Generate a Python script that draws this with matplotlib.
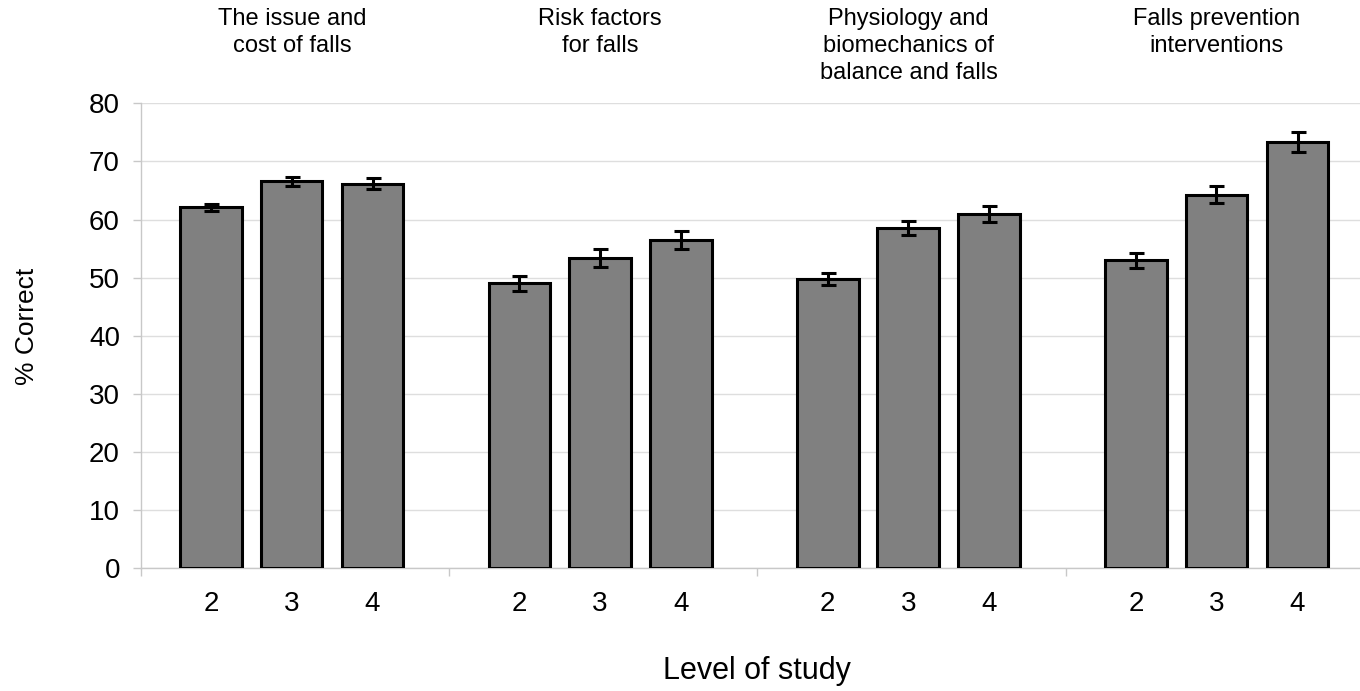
import numpy as np
import matplotlib.pyplot as plt
import matplotlib.transforms as mtransforms

plt.rcParams['font.family'] = ['Liberation Sans', 'DejaVu Sans']

topics = ["The issue and\ncost of falls", "Risk factors\nfor falls",
          "Physiology and\nbiomechanics of\nbalance and falls",
          "Falls prevention\ninterventions"]
levels = ["2", "3", "4"]
means = [[62.1, 66.6, 66.2],
         [49.0, 53.4, 56.5],
         [49.8, 58.6, 61.0],
         [53.0, 64.3, 73.4]]
errors = [[0.6, 0.8, 0.9],
          [1.3, 1.6, 1.5],
          [1.0, 1.2, 1.4],
          [1.3, 1.5, 1.7]]

offsets = np.array([0.228, 0.489, 0.752])
width = 0.2

fig = plt.figure(figsize=(13.6, 6.91), dpi=100)
ax = fig.add_axes([0.1035, 0.1776, 0.9068, 0.6729])

xs, ys, es, labs = [], [], [], []
for g in range(len(topics)):
    for k in range(len(levels)):
        xs.append(g + offsets[k])
        ys.append(means[g][k])
        es.append(errors[g][k])
        labs.append(levels[k])

ax.bar(xs, ys, width=width, color="#808080", edgecolor="black", linewidth=2.2, zorder=3)
ax.errorbar(xs, ys, yerr=es, fmt="none", ecolor="black", elinewidth=2.2,
            capsize=5.4, capthick=2.2, zorder=4)

ax.set_ylim(0, 80)
ax.set_xlim(0, 4)
ax.set_yticks(np.arange(0, 81, 10))
ax.yaxis.grid(True, color="#dedede", linewidth=1)
ax.set_axisbelow(True)

ax.set_xticks(range(5))
ax.set_xticklabels([])
ax.set_xticks(xs, minor=True)
ax.set_xticklabels(labs, minor=True, fontsize=20)
ax.tick_params(axis="x", which="minor", length=0, pad=16)
ax.tick_params(axis="x", which="major", length=6, color="#c8c8c8", width=1)
ax.tick_params(axis="y", length=6, color="#c8c8c8", width=1, labelsize=20, pad=9)

for s in ["top", "right"]:
    ax.spines[s].set_visible(False)
for s in ["left", "bottom"]:
    ax.spines[s].set_color("#c8c8c8")
    ax.spines[s].set_linewidth(1)

trans = mtransforms.blended_transform_factory(ax.transData, fig.transFigure)
for g, t in enumerate(topics):
    ax.text(g + 0.49, 1.0 - 8 / 691, t, transform=trans,
            ha="center", va="top", fontsize=17, linespacing=1.3)

fig.text(26.7 / 1360, 1 - 326 / 691, "% Correct", rotation=90, ha="center", va="center", fontsize=19)
fig.text(757 / 1360, 1 - 671 / 691, "Level of study", ha="center", va="center", fontsize=22)

fig.savefig("out.png", dpi=100)
